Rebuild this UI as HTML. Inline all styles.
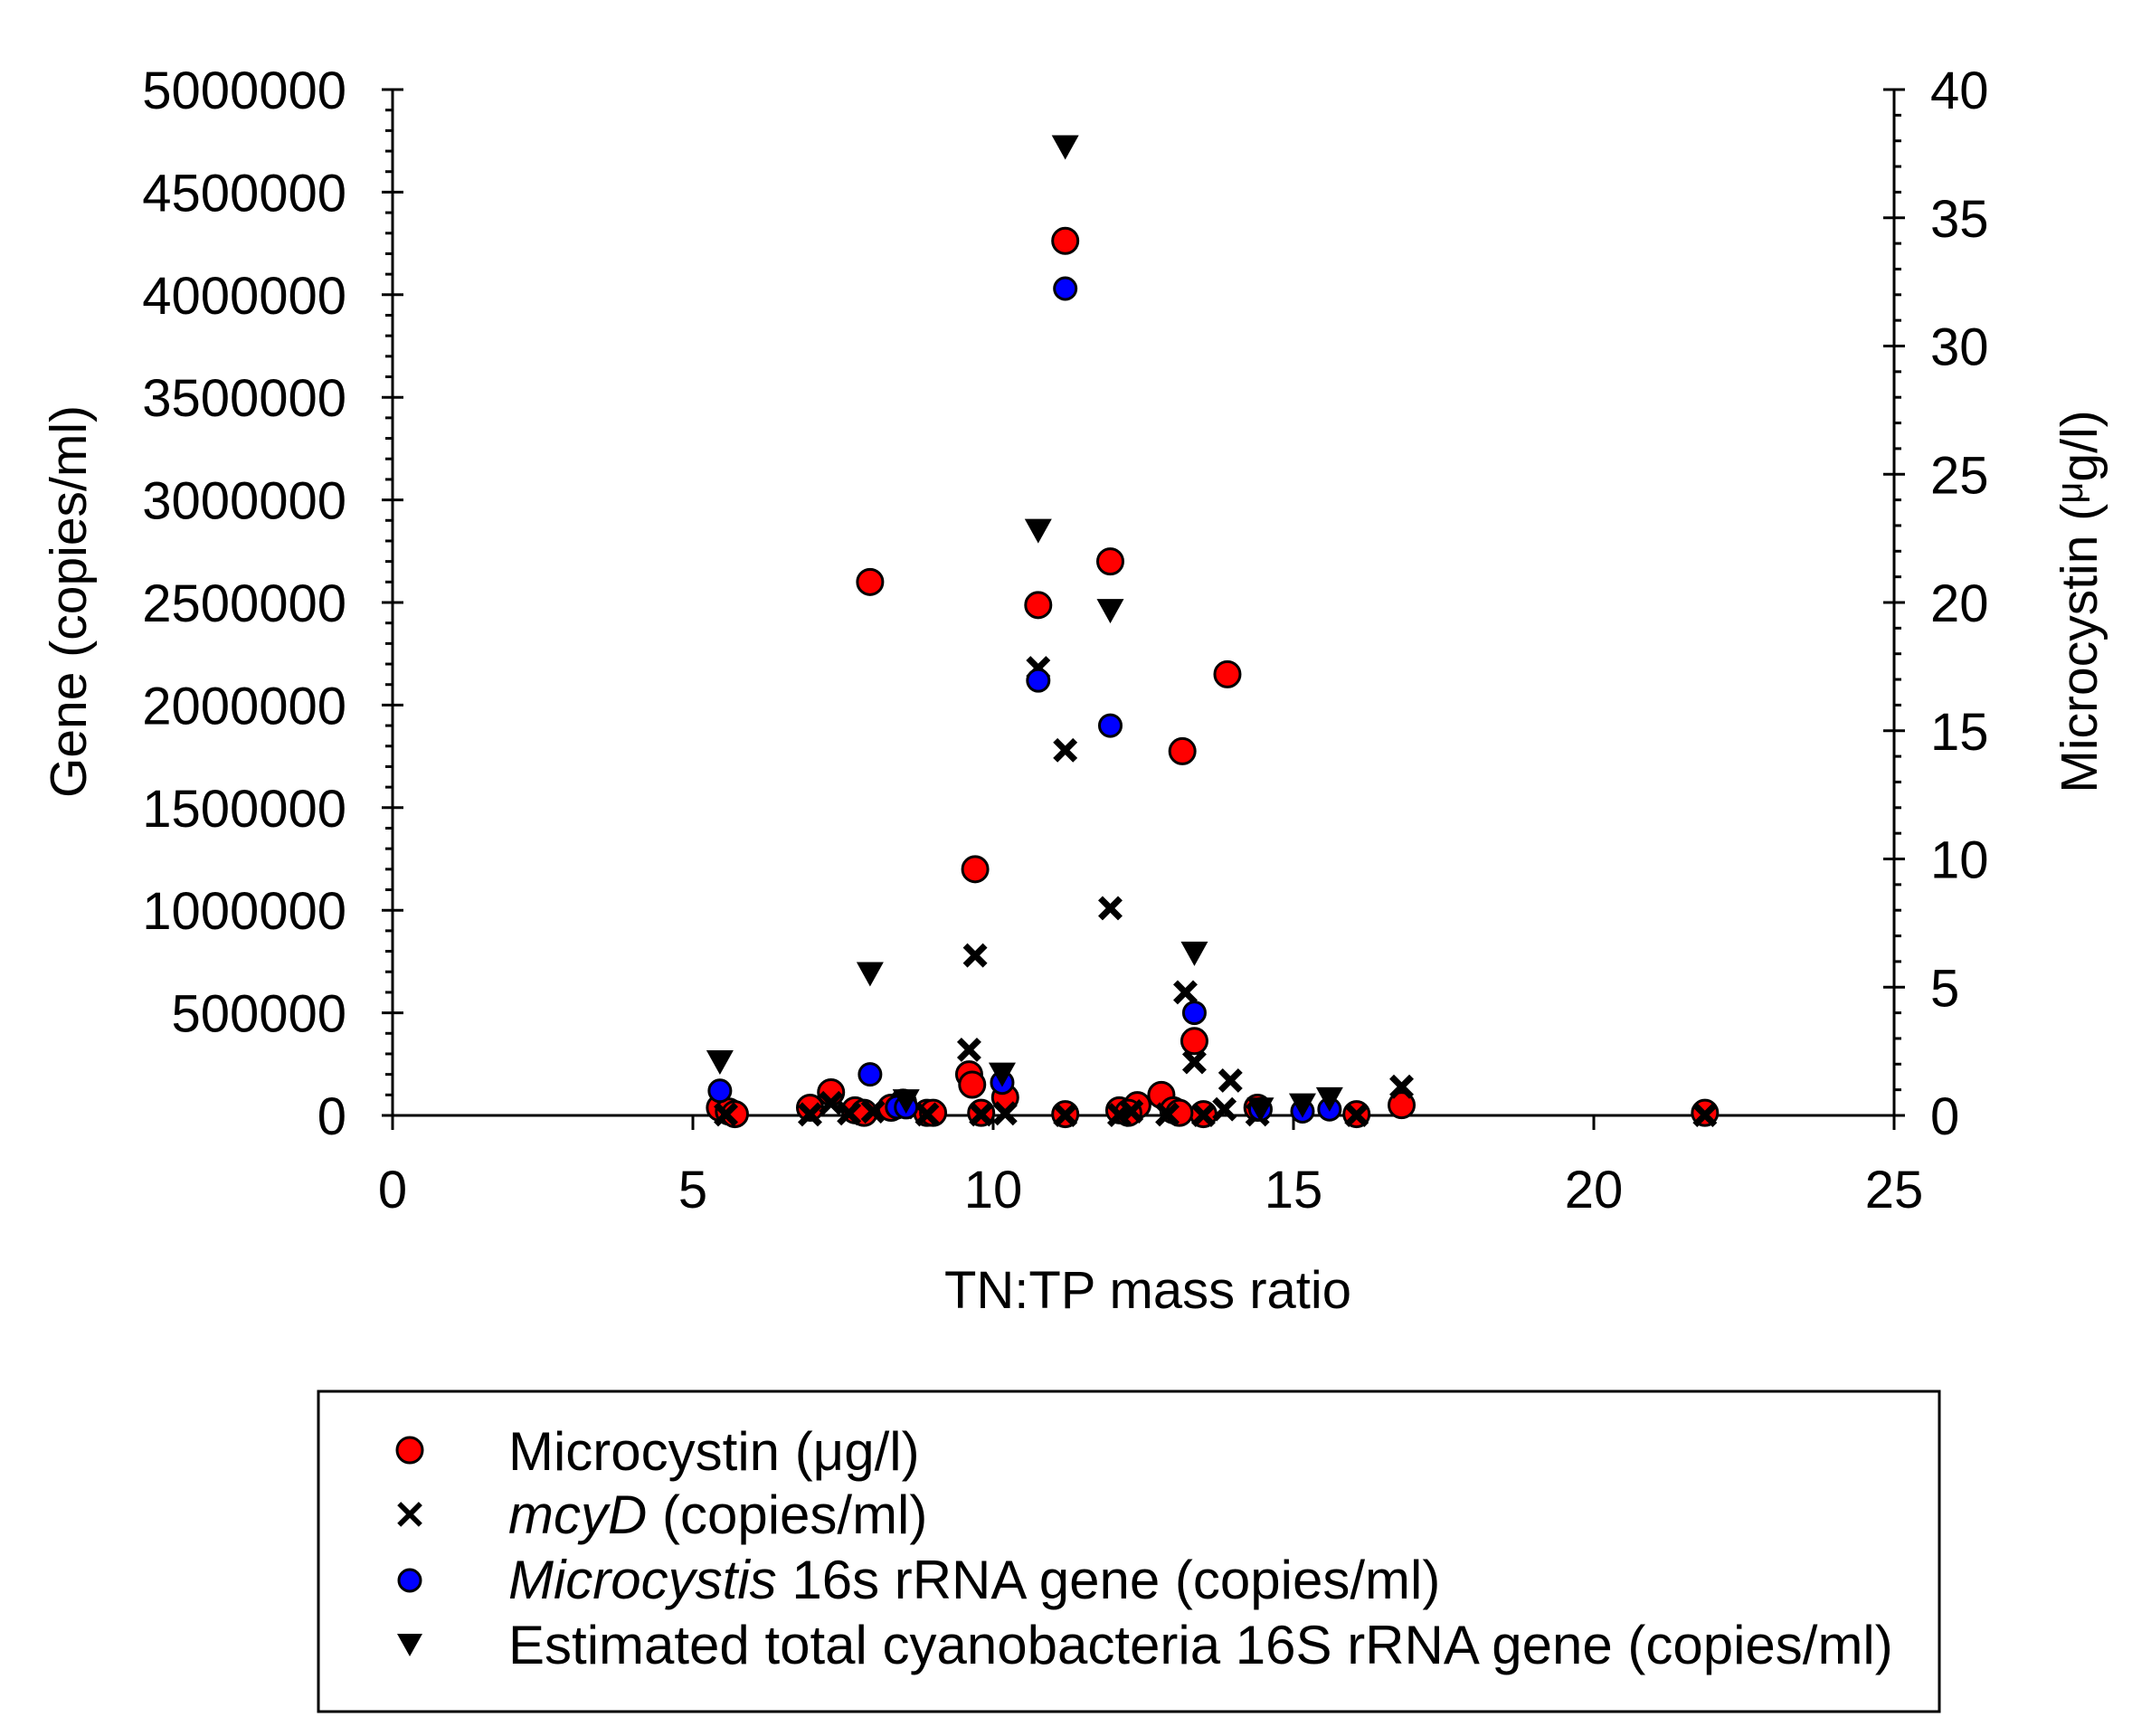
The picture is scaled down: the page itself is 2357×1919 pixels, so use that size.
<!DOCTYPE html>
<html><head><meta charset="utf-8"><style>
html,body{margin:0;padding:0;background:#fff;}
svg{display:block;font-family:"Liberation Sans",Arial,sans-serif;}
</style></head><body>
<svg id="chart" width="2357" height="1919" viewBox="0 0 2357 1919" xmlns="http://www.w3.org/2000/svg">
<rect width="2357" height="1919" fill="#fff"/>
<g id="axes"></g>
<g id="marks"></g>
<text transform="translate(95,665) rotate(-90)" text-anchor="middle" font-size="57">Gene (copies/ml)</text>
<text transform="translate(2318,665) rotate(-90)" text-anchor="middle" font-size="57">Microcystin (<tspan font-size="42" dy="-16">μ</tspan><tspan dy="16">g/l)</tspan></text>
<text x="1269" y="1446" text-anchor="middle" font-size="58">TN:TP mass ratio</text>
<g>
<rect x="352" y="1538" width="1792" height="354" fill="none" stroke="#000" stroke-width="3"/>
<circle cx="453" cy="1603" r="14" fill="#f00" stroke="#000" stroke-width="3"/>
<text x="562" y="1625" font-size="60">Microcystin (μg/l)</text>
<text x="453" y="1690" text-anchor="middle" font-size="44" font-weight="bold">✕</text>
<text x="562" y="1695" font-size="60"><tspan font-style="italic">mcyD</tspan> (copies/ml)</text>
<circle cx="453" cy="1747" r="12" fill="#00f" stroke="#000" stroke-width="3"/>
<text x="562" y="1767" font-size="60"><tspan font-style="italic">Microcystis</tspan> 16s rRNA gene (copies/ml)</text>
<polygon points="439,1806 467,1806 453,1831" fill="#000"/>
<text x="562" y="1839" font-size="60">Estimated total cyanobacteria 16S rRNA gene (copies/ml)</text>
</g>
</svg>
<script>
const leftTicks=["0","500000","1000000","1500000","2000000","2500000","3000000","3500000","4000000","4500000","5000000"];
const leftTickVals=[0,500000,1000000,1500000,2000000,2500000,3000000,3500000,4000000,4500000,5000000];
const rightTickVals=[0,5,10,15,20,25,30,35,40];
const xTickVals=[0,5,10,15,20,25];
const micX=[7.95,11.2,10.75,11.95,13.9,13.15,9.7,13.35,9.6,9.65,7.3,12.8,10.2,16.8,5.45,5.6,6.95,7.7,8.5,8.3,8.9,9.0,9.8,11.2,12.1,12.4,13.0,13.5,14.4,16.05,21.85,5.7,7.85,12.25,13.1];
const micY=[20.8,34.1,19.9,21.6,17.2,14.2,9.6,2.9,1.6,1.2,0.9,0.8,0.7,0.4,0.3,0.15,0.3,0.2,0.5,0.3,0.1,0.1,0.1,0.05,0.2,0.4,0.2,0.05,0.3,0.05,0.1,0.05,0.1,0.1,0.1];
const mcyX=[10.75,11.2,11.95,9.7,13.2,9.6,13.35,13.95,16.8,13.85,10.2,5.55,6.95,7.6,8.0,8.5,8.9,9.8,11.2,12.1,12.9,13.5,14.4,16.05,21.85,7.3,12.3];
const mcyY=[2180000,1780000,1010000,780000,600000,320000,260000,170000,140000,30000,10000,5000,5000,10000,20000,40000,5000,5000,2000,2000,5000,2000,5000,2000,2000,60000,20000];
const misX=[11.2,10.75,11.95,13.35,7.95,5.45,10.15,8.4,8.55,14.45,15.6,15.15];
const misY=[4030000,2120000,1900000,500000,200000,120000,160000,40000,40000,30000,30000,20000];
const cyaX=[11.2,10.75,11.95,13.35,7.95,5.45,10.15,15.6,15.15,8.55,14.45];
const cyaY=[4720000,2850000,2460000,790000,690000,260000,200000,80000,50000,70000,30000];

const X0=434,X1=2094,Y0=1233,Y1=99;
const sx=v=>X0+(v/25)*(X1-X0);
const syL=v=>Y0-(v/5000000)*(Y0-Y1);
const syR=v=>Y0-(v/40)*(Y0-Y1);
const NS="http://www.w3.org/2000/svg";
const axes=document.getElementById('axes'),marks=document.getElementById('marks');
function mk(tag,attrs,parent){const e=document.createElementNS(NS,tag);for(const k in attrs)e.setAttribute(k,attrs[k]);parent.appendChild(e);return e;}

let e;
e=mk('line',{x1:X0,y1:Y0,x2:X1,y2:Y0,stroke:'#000','stroke-width':3},axes);


e=mk('line',{x1:X0,y1:Y0,x2:X0,y2:Y1,stroke:'#000','stroke-width':3},axes);


e=mk('line',{x1:X1,y1:Y0,x2:X1,y2:Y1,stroke:'#000','stroke-width':3},axes);


for(let v=0;v<=5000000;v+=100000){const y=syL(v);const major=v%500000===0;
 mk('line',{x1:X0-(major?12:8),y1:y,x2:X0+(major?12:0),y2:y,stroke:'#000','stroke-width':3},axes);}
leftTickVals.forEach((v,i)=>{const t=mk('text',{x:383,y:syL(v)+21,'text-anchor':'end','font-size':58},axes);t.textContent=leftTicks[i];
 
 });
for(let v=0;v<=40;v+=1){const y=syR(v);const major=v%5===0;
 mk('line',{x1:X1-(major?12:0),y1:y,x2:X1+(major?12:8),y2:y,stroke:'#000','stroke-width':3},axes);}
rightTickVals.forEach(v=>{const t=mk('text',{x:2134,y:syR(v)+21,'text-anchor':'start','font-size':58},axes);t.textContent=String(v);
 
 });
xTickVals.forEach(v=>{const x=sx(v);mk('line',{x1:x,y1:Y0,x2:x,y2:Y0+16,stroke:'#000','stroke-width':3},axes);
 const t=mk('text',{x:x,y:1335,'text-anchor':'middle','font-size':58},axes);t.textContent=String(v);
 
 });

micX.forEach((x,i)=>{const c=mk('circle',{cx:sx(x),cy:syR(micY[i]),r:14,fill:'#f00',stroke:'#000','stroke-width':3},marks);
 
 });
mcyX.forEach((x,i)=>{const cx=sx(x),cy=syL(mcyY[i]),d=11;
 const p=mk('path',{d:`M${cx-d},${cy-d}L${cx+d},${cy+d}M${cx+d},${cy-d}L${cx-d},${cy+d}`,stroke:'#000','stroke-width':7,fill:'none'},marks);
 
 });
misX.forEach((x,i)=>{const c=mk('circle',{cx:sx(x),cy:syL(misY[i]),r:12,fill:'#00f',stroke:'#000','stroke-width':3},marks);
 
 });
cyaX.forEach((x,i)=>{const cx=sx(x),cy=syL(cyaY[i]);
 const p=mk('polygon',{points:`${cx-15},${cy-13} ${cx+15},${cy-13} ${cx},${cy+14}`,fill:'#000'},marks);
 
 });
</script>
</body></html>
